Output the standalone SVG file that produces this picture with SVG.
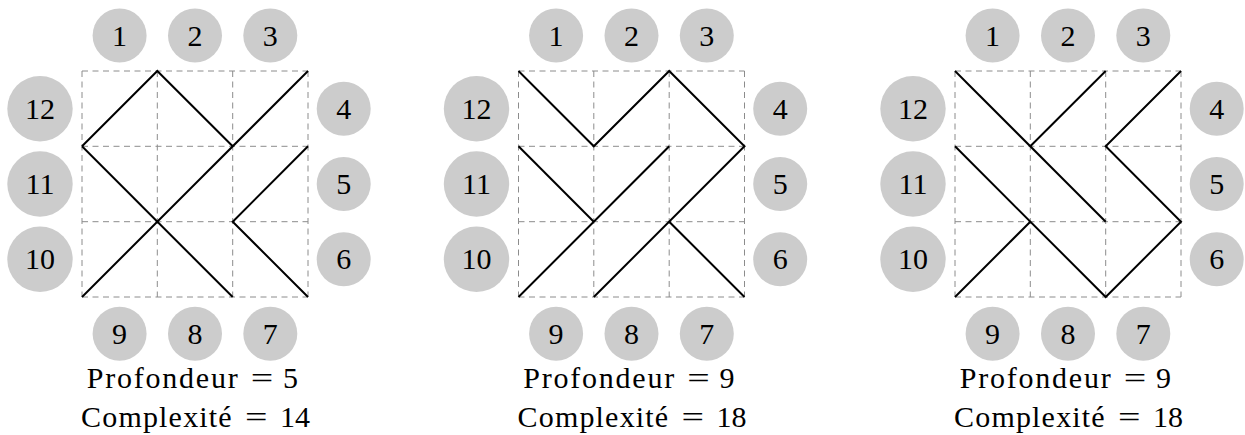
<svg xmlns="http://www.w3.org/2000/svg" width="1245" height="435" viewBox="0 0 1245 435">
<defs>
<style>
.c{fill:#cccccc}
.n{font-family:"Liberation Serif","Times New Roman",serif;font-size:30px;fill:#000;text-anchor:middle}
.g{fill:none;stroke:#8c8c8c;stroke-width:1;stroke-dasharray:6 4.5}
.p{fill:none;stroke:#000;stroke-width:2;stroke-linejoin:miter;stroke-linecap:butt}
.t{font-family:"Liberation Serif","Times New Roman",serif;font-size:30px;fill:#000}
.m{text-anchor:middle}
</style>
<g id="frame">
<circle class="c" cx="119.6" cy="35.5" r="27"/><text class="n" x="119.6" y="45.5">1</text>
<circle class="c" cx="195" cy="35.5" r="27"/><text class="n" x="195" y="45.5">2</text>
<circle class="c" cx="270.3" cy="35.5" r="27"/><text class="n" x="270.3" y="45.5">3</text>
<circle class="c" cx="343.7" cy="108.7" r="27"/><text class="n" x="343.7" y="118.7">4</text>
<circle class="c" cx="343.7" cy="184" r="27"/><text class="n" x="343.7" y="194">5</text>
<circle class="c" cx="343.7" cy="259.3" r="27"/><text class="n" x="343.7" y="269.3">6</text>
<circle class="c" cx="270.3" cy="333.7" r="27"/><text class="n" x="270.3" y="343.7">7</text>
<circle class="c" cx="195" cy="333.7" r="27"/><text class="n" x="195" y="343.7">8</text>
<circle class="c" cx="119.6" cy="333.7" r="27"/><text class="n" x="119.6" y="343.7">9</text>
<circle class="c" cx="40" cy="259.3" r="32.7"/><text class="n" x="40" y="269.3">10</text>
<circle class="c" cx="40" cy="184" r="32.7"/><text class="n" x="40" y="194">11</text>
<circle class="c" cx="40" cy="108.7" r="32.7"/><text class="n" x="40" y="118.7">12</text>
<path class="g" d="M82 71H308M82 146.3H308M82 221.7H308M82 297H308M82 71V297M157.3 71V297M232.7 71V297M308 71V297"/>
<text class="t" x="86.7" y="388" textLength="151" lengthAdjust="spacing">Profondeur</text>
<text class="t m" x="262" y="388" textLength="22.5" lengthAdjust="spacingAndGlyphs">=</text>
<text class="t" x="81" y="427" textLength="150.7" lengthAdjust="spacing">Complexité</text>
<text class="t m" x="256.3" y="427" textLength="22.5" lengthAdjust="spacingAndGlyphs">=</text>
</g>
</defs>
<g id="panel1">
<use href="#frame"/>
<g id="connectors1">
<polyline class="p" points="82,146.3 157.3,71 232.7,146.3"/>
<line class="p" x1="308" y1="71" x2="82" y2="297"/>
<line class="p" x1="82" y1="146.3" x2="232.7" y2="297"/>
<polyline class="p" points="308,146.3 232.7,221.7 308,297"/>
</g>
<text class="t m" x="290.5" y="388">5</text>
<text class="t m" x="295" y="427">14</text>
</g>
<g id="panel2" transform="translate(436.5,0)">
<use href="#frame"/>
<g id="connectors2">
<polyline class="p" points="82,71 157.3,146.3 232.7,71 308,146.3 157.3,297"/>
<line class="p" x1="82" y1="146.3" x2="157.3" y2="221.7"/>
<line class="p" x1="82" y1="297" x2="232.7" y2="146.3"/>
<line class="p" x1="232.7" y1="221.7" x2="308" y2="297"/>
</g>
<text class="t m" x="290.5" y="388">9</text>
<text class="t m" x="295" y="427">18</text>
</g>
<g id="panel3" transform="translate(873,0)">
<use href="#frame"/>
<g id="connectors3">
<line class="p" x1="82" y1="71" x2="232.7" y2="221.7"/>
<line class="p" x1="157.3" y1="146.3" x2="232.7" y2="71"/>
<polyline class="p" points="308,71 232.7,146.3 308,221.7 232.7,297 82,146.3"/>
<line class="p" x1="82" y1="297" x2="157.3" y2="221.7"/>
</g>
<text class="t m" x="290.5" y="388">9</text>
<text class="t m" x="295" y="427">18</text>
</g>
</svg>
